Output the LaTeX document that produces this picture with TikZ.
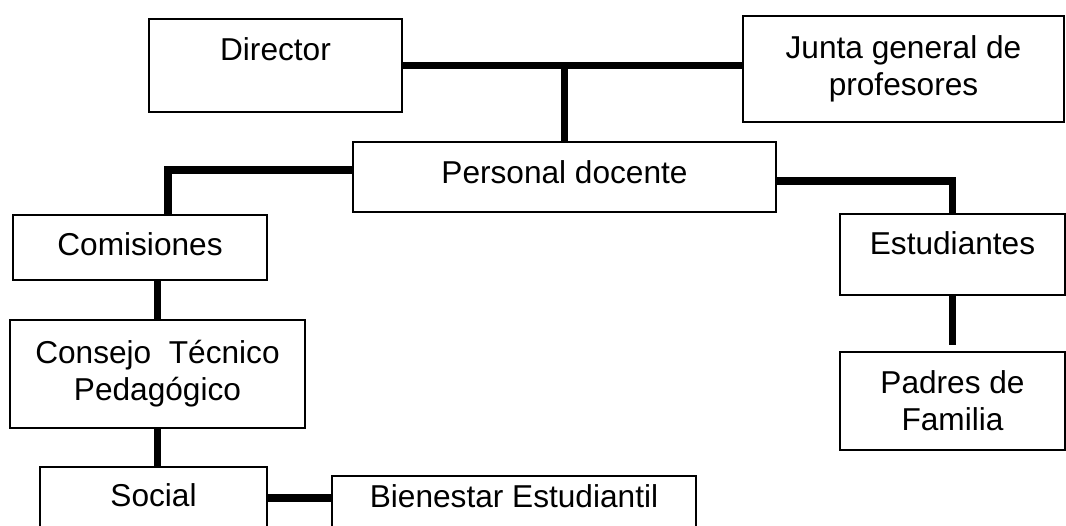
\documentclass[tikz,border=0pt]{standalone}
\usepackage{fontspec}
\setmainfont{Liberation Sans}

\begin{document}
\begin{tikzpicture}[x=1cm,y=1cm,
  bx/.style={draw,line width=.9pt,inner sep=0pt,align=center,
             font=\fontsize{18}{21}\selectfont},
  tx/.style={text height=.46cm,text depth=#1},
  ln/.style={line width=4pt}]
\useasboundingbox (0,0) rectangle (21.32,-10.5);

\node[bx,tx=.68cm,minimum width=5.06cm,minimum height=1.86cm] (dir) at (5.51,-1.31) {Director};
\node[bx,minimum width=6.42cm,minimum height=2.12cm] (junta) at (18.07,-1.38) {Junta general de\\profesores};
\node[bx,tx=.22cm,minimum width=8.46cm,minimum height=1.40cm] (pd) at (11.29,-3.54) {Personal docente};
\node[bx,tx=.16cm,minimum width=5.08cm,minimum height=1.30cm] (com) at (2.80,-4.95) {Comisiones};
\node[bx,tx=.47cm,minimum width=4.50cm,minimum height=1.62cm] (est) at (19.05,-5.09) {Estudiantes};
\node[bx,minimum width=5.90cm,minimum height=2.16cm] (cons) at (3.15,-7.48) {Consejo\ \ Técnico\\Pedagógico};
\node[bx,minimum width=4.50cm,minimum height=1.96cm] (pad) at (19.05,-8.02) {Padres de\\Familia};
\node[bx,tx=.46cm,minimum width=4.54cm,minimum height=1.56cm] (soc) at (3.07,-10.12) {Social};
\node[bx,tx=.60cm,minimum width=7.28cm,minimum height=1.38cm] (bie) at (10.28,-10.21) {Bienestar Estudiantil};

% top level
\draw[ln] (dir.east) -- (junta.west |- dir.east);
\draw[ln] (pd.north) -- (pd.north |- dir.east);

% branches of personal docente
\draw[ln] ([yshift=.14cm]pd.west) -| ([xshift=.56cm]com.north);
\draw[ln] ([yshift=-.08cm]pd.east) -| (est.north);

% left column
\draw[ln] (cons.north) -- (cons.north |- com.south);
\draw[ln] (cons.south) -- (cons.south |- soc.north);
\draw[ln] ([yshift=.16cm]soc.east) -- ([yshift=.16cm]soc.east -| bie.west);

% right column
\draw[ln] (est.south) -- ([yshift=.12cm]pad.north);

\end{tikzpicture}
\end{document}
